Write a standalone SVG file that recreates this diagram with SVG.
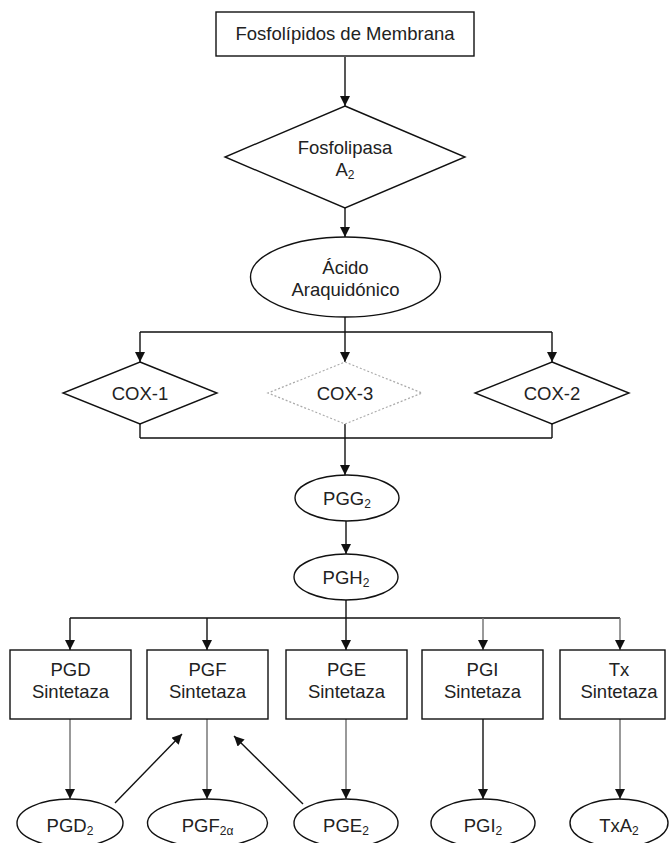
<svg xmlns="http://www.w3.org/2000/svg" width="669" height="843" viewBox="0 0 669 843">
<style>
  .n { fill: #fff; stroke: #111; stroke-width: 1.4; }
  .d { fill: #fff; stroke: #aaa; stroke-width: 1.2; stroke-dasharray: 2 2; }
  .t { font-family: "Liberation Sans", Arial, sans-serif; font-size: 18.5px; fill: #222; text-anchor: middle; }
  .s { font-size: 12px; }
  .c { fill: none; stroke: #111; stroke-width: 1.4; }
  .g { fill: none; stroke: #777; stroke-width: 1.5; }
  .a { marker-end: url(#ah); }
</style>
<defs>
  <marker id="ah" viewBox="0 0 10 10" refX="10" refY="5" markerWidth="10" markerHeight="10" markerUnits="userSpaceOnUse" orient="auto">
    <path d="M0,0 L10,5 L0,10 z" fill="#111"/>
  </marker>
</defs>
<rect width="669" height="843" fill="#fff"/>

<g id="connectors">
  <path class="c a" d="M345,57 V106"/>
  <path class="c a" d="M345,208 V237"/>
  <path class="c" d="M345,317 V332 M140,332 H552"/>
  <path class="c a" d="M140,332 V362"/>
  <path class="c a" d="M345,332 V362"/>
  <path class="c a" d="M552,332 V362"/>
  <path class="c" d="M140,424 V438 M552,424 V438 M140,438 H552"/>
  <path class="c a" d="M345,424 V475"/>
  <path class="c a" d="M346,521 V554"/>
  <path class="c" d="M346,600 V618 M70,618 H620"/>
  <path class="c a" d="M70,618 V650"/>
  <path class="c a" d="M207,618 V650"/>
  <path class="c a" d="M346,618 V650"/>
  <path class="g a" d="M483,618 V650"/>
  <path class="g a" d="M620,618 V650"/>
  <path class="g a" d="M70,719 V799"/>
  <path class="g a" d="M207,719 V799"/>
  <path class="g a" d="M346,719 V799"/>
  <path class="c a" d="M483,719 V799"/>
  <path class="g a" d="M620,719 V799"/>
  <path class="c a" d="M115,803 L182,734"/>
  <path class="c a" d="M303,804 L234,736"/>
</g>

<g id="fosfolipidos">
  <rect class="n" x="216" y="12" width="258" height="44"/>
  <text class="t" x="345" y="40">Fosfolípidos de Membrana</text>
</g>
<g id="fosfolipasa">
  <polygon class="n" points="345,106 465,157 345,208 225,157"/>
  <text class="t" x="345" y="154">Fosfolipasa</text>
  <text class="t" x="345" y="176">A<tspan class="s" dy="3">2</tspan></text>
</g>
<g id="acido">
  <ellipse class="n" cx="345.5" cy="277" rx="95" ry="40"/>
  <text class="t" x="345.5" y="274">Ácido</text>
  <text class="t" x="345.5" y="296">Araquidónico</text>
</g>
<g id="cox1">
  <polygon class="n" points="140,362 217,393 140,424 63,393"/>
  <text class="t" x="140" y="400">COX-1</text>
</g>
<g id="cox3">
  <polygon class="d" points="345,362 422,393 345,424 268,393"/>
  <text class="t" x="345" y="400">COX-3</text>
</g>
<g id="cox2">
  <polygon class="n" points="552,362 629,393 552,424 475,393"/>
  <text class="t" x="552" y="400">COX-2</text>
</g>
<g id="pgg2">
  <ellipse class="n" cx="347" cy="498" rx="52" ry="23"/>
  <text class="t" x="347" y="505">PGG<tspan class="s" dy="3">2</tspan></text>
</g>
<g id="pgh2">
  <ellipse class="n" cx="346" cy="577" rx="52" ry="23"/>
  <text class="t" x="346" y="584">PGH<tspan class="s" dy="3">2</tspan></text>
</g>
<g id="pgd-sint">
  <rect class="n" x="10" y="650" width="121" height="69"/>
  <text class="t" x="70.5" y="676">PGD</text>
  <text class="t" x="70.5" y="698">Sintetaza</text>
</g>
<g id="pgf-sint">
  <rect class="n" x="147" y="650" width="121" height="69"/>
  <text class="t" x="207.5" y="676">PGF</text>
  <text class="t" x="207.5" y="698">Sintetaza</text>
</g>
<g id="pge-sint">
  <rect class="n" x="286" y="650" width="121" height="69"/>
  <text class="t" x="346.5" y="676">PGE</text>
  <text class="t" x="346.5" y="698">Sintetaza</text>
</g>
<g id="pgi-sint">
  <rect class="n" x="422" y="650" width="121" height="69"/>
  <text class="t" x="482.5" y="676">PGI</text>
  <text class="t" x="482.5" y="698">Sintetaza</text>
</g>
<g id="tx-sint">
  <rect class="n" x="560" y="650" width="105" height="69"/>
  <text class="t" x="619" y="676">Tx</text>
  <text class="t" x="619" y="698">Sintetaza</text>
</g>
<g id="pgd2">
  <ellipse class="n" cx="70" cy="823" rx="53" ry="24"/>
  <text class="t" x="70" y="832">PGD<tspan class="s" dy="3">2</tspan></text>
</g>
<g id="pgf2a">
  <ellipse class="n" cx="207.5" cy="823" rx="60" ry="24"/>
  <text class="t" x="207.5" y="832">PGF<tspan class="s" dy="3">2α</tspan></text>
</g>
<g id="pge2">
  <ellipse class="n" cx="346" cy="823" rx="52" ry="24"/>
  <text class="t" x="346" y="832">PGE<tspan class="s" dy="3">2</tspan></text>
</g>
<g id="pgi2">
  <ellipse class="n" cx="483" cy="823" rx="52" ry="24"/>
  <text class="t" x="483" y="832">PGI<tspan class="s" dy="3">2</tspan></text>
</g>
<g id="txa2">
  <ellipse class="n" cx="619" cy="823" rx="49" ry="24"/>
  <text class="t" x="619" y="832">TxA<tspan class="s" dy="3">2</tspan></text>
</g>
</svg>
